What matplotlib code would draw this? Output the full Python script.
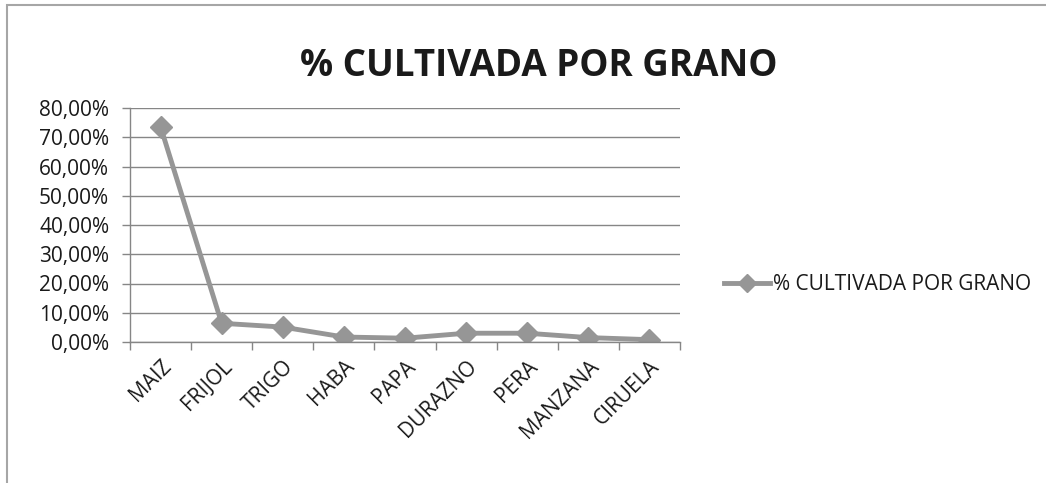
import matplotlib
matplotlib.use("Agg")
import matplotlib.pyplot as plt
from matplotlib.ticker import FuncFormatter
from matplotlib.patches import Rectangle

categories = ["MAIZ", "FRIJOL", "TRIGO", "HABA", "PAPA", "DURAZNO", "PERA", "MANZANA", "CIRUELA"]
values = [0.736, 0.064, 0.051, 0.017, 0.013, 0.030, 0.030, 0.015, 0.008]
series_name = "% CULTIVADA POR GRANO"
title = "% CULTIVADA POR GRANO"

plt.rcParams['font.family'] = ['Open Sans', 'DejaVu Sans']

W, H = 1046, 483
fig = plt.figure(figsize=(W / 100, H / 100), dpi=100)
fig.patch.set_facecolor("white")

# chart frame
fig.patches.append(Rectangle((7 / W, -0.1), 1.2, 1 - 5 / H + 0.1, transform=fig.transFigure,
                             fill=False, edgecolor="#a6a6a6", lw=1.5))

ax = fig.add_axes([130 / W, 1 - 342 / H, 550 / W, 234 / H])
x = list(range(len(categories)))
line_color = "#969696"
ax.plot(x, values, color=line_color, lw=3.5, marker="D", markersize=11,
        markerfacecolor=line_color, markeredgecolor=line_color, label=series_name)

ax.set_xlim(-0.5, len(categories) - 0.5)
ax.set_ylim(0, 0.8)
ax.set_yticks([i / 10 for i in range(9)])
ax.yaxis.set_major_formatter(FuncFormatter(lambda v, p: f"{v * 100:.2f}%".replace(".", ",")))
ax.grid(axis="y", color="#868686", lw=1)
ax.set_axisbelow(True)

# x ticks between categories
ax.set_xticks([i - 0.5 for i in range(len(categories) + 1)])
ax.set_xticklabels([])
ax.set_xticks(x, minor=True)
ax.set_xticklabels(categories, minor=True, rotation=45, ha="right", va="top",
                   rotation_mode="anchor", fontsize=15, color="#1a1a1a")
ax.tick_params(axis="x", which="minor", length=0, pad=10)
ax.tick_params(axis="x", which="major", length=6, color="#868686", width=1)
ax.tick_params(axis="y", length=6, color="#868686", width=1, labelsize=15, pad=9,
               labelcolor="#1a1a1a")

for s in ["top", "right"]:
    ax.spines[s].set_visible(False)
for s in ["left", "bottom"]:
    ax.spines[s].set_color("#868686")
    ax.spines[s].set_linewidth(1)

fig.text(539 / W, 1 - 66 / H, title, ha="center", va="center", fontsize=26.5, fontweight="bold",
         color="#1a1a1a")

leg = ax.legend(loc="center left", bbox_to_anchor=(705 / W, 1 - 285 / H), bbox_transform=fig.transFigure,
                frameon=False, fontsize=15, handlelength=2.2, handletextpad=0.15, markerscale=0.8,
                labelcolor="#1a1a1a")

fig.savefig("out.png", dpi=100)
